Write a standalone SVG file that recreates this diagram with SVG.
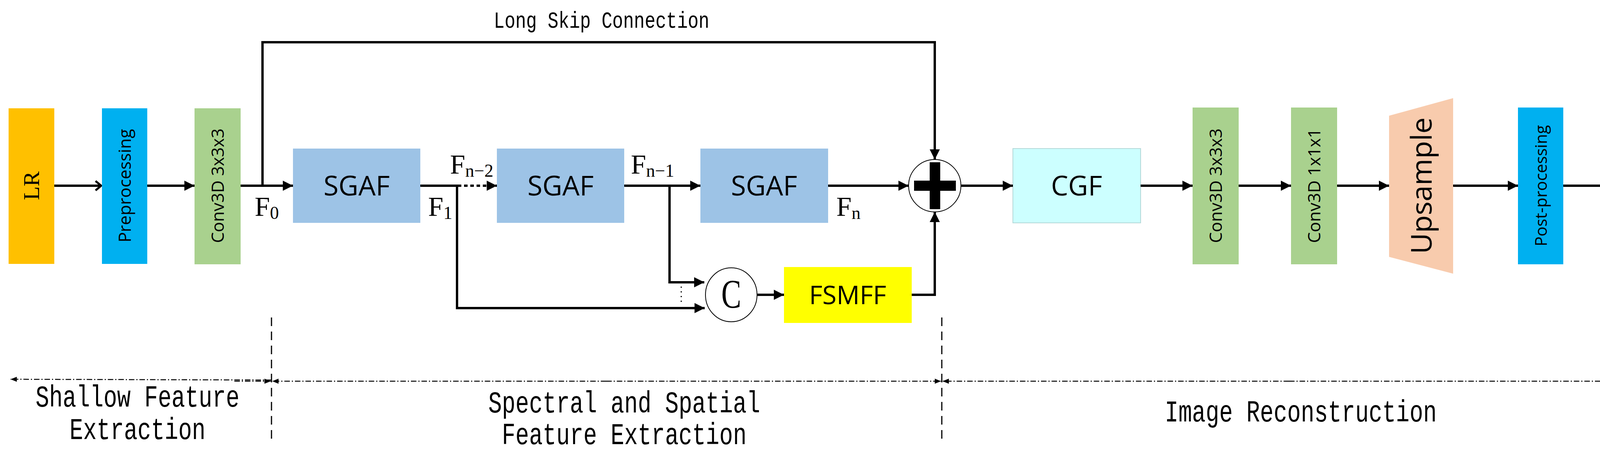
<svg xmlns="http://www.w3.org/2000/svg" width="4272" height="1174" viewBox="0 0 4272 1174">
<style>
.lbl{font-family:"Open Sans","DejaVu Sans",sans-serif;fill:#000}
.ser{font-family:"Liberation Serif","DejaVu Serif",serif;fill:#000}
.mono{font-family:"Liberation Mono","DejaVu Sans Mono",monospace;fill:#000}
.ln{fill:none;stroke:#000;stroke-width:6}
.dd{fill:none;stroke:#000;stroke-width:2.5;stroke-dasharray:14 5 3 5}
.vd{fill:none;stroke:#000;stroke-width:3;stroke-dasharray:22 14}
</style>
<defs>
<marker id="a" viewBox="0 0 10 10" refX="10" refY="5" markerWidth="26" markerHeight="26" markerUnits="userSpaceOnUse" orient="auto"><path d="M0,0 L10,5 L0,10 z" fill="#000"/></marker>
<marker id="ao" viewBox="0 0 10 10" refX="9" refY="5" markerWidth="24" markerHeight="28" markerUnits="userSpaceOnUse" orient="auto"><path d="M3,0 L9,5 L3,10" fill="none" stroke="#000" stroke-width="2.2"/></marker>
<marker id="as" viewBox="0 0 10 10" refX="10" refY="5" markerWidth="16" markerHeight="16" markerUnits="userSpaceOnUse" orient="auto"><path d="M0,1 L10,5 L0,9 z" fill="#000"/></marker>
</defs>

<g id="LR"><rect x="22" y="277" width="117" height="398" fill="#FFC000"/><text class="ser" font-size="58" transform="translate(100,475) rotate(-90)" text-anchor="middle">LR</text></g>
<g id="pre"><rect x="261" y="277" width="116" height="398" fill="#00B0F0"/><text class="lbl" font-size="44" transform="translate(335,475) rotate(-90)" text-anchor="middle">Preprocessing</text></g>
<g id="conv1"><rect x="498" y="277" width="118" height="399" fill="#A9D18E"/><text class="lbl" font-size="44" transform="translate(573,475) rotate(-90)" text-anchor="middle">Conv3D 3x3x3</text></g>
<g id="sgaf1"><rect x="750" y="380" width="326" height="190" fill="#9DC3E6"/><text class="lbl" font-size="70" x="913" y="500" text-anchor="middle">SGAF</text></g>
<g id="sgaf2"><rect x="1272" y="380" width="326" height="190" fill="#9DC3E6"/><text class="lbl" font-size="70" x="1435" y="500" text-anchor="middle">SGAF</text></g>
<g id="sgaf3"><rect x="1793" y="380" width="327" height="190" fill="#9DC3E6"/><text class="lbl" font-size="70" x="1956" y="500" text-anchor="middle">SGAF</text></g>
<g id="plus"><circle cx="2393" cy="475" r="67" fill="#fff" stroke="#000" stroke-width="2"/><rect x="2340" y="462" width="107" height="26"/><rect x="2380" y="415" width="27" height="120"/></g>
<g id="concat"><ellipse cx="1872" cy="754" rx="66" ry="69" fill="#fff" stroke="#000" stroke-width="2"/><text class="ser" font-size="90" transform="translate(1872,787) scale(0.85,1.15)" text-anchor="middle">C</text></g>
<g id="fsmff"><rect x="2007" y="683" width="327" height="143" fill="#FFFF00"/><text class="lbl" font-size="66" x="2170" y="778" text-anchor="middle">FSMFF</text></g>
<g id="cgf"><rect x="2593" y="380" width="327" height="190" fill="#CCFFFF" stroke="#B4D8D8" stroke-width="2"/><text class="lbl" font-size="70" x="2756" y="500" text-anchor="middle">CGF</text></g>
<g id="conv2"><rect x="3053" y="275" width="118" height="401" fill="#A9D18E"/><text class="lbl" font-size="44" transform="translate(3128,475) rotate(-90)" text-anchor="middle">Conv3D 3x3x3</text></g>
<g id="conv3"><rect x="3305" y="275" width="118" height="401" fill="#A9D18E"/><text class="lbl" font-size="44" transform="translate(3380,475) rotate(-90)" text-anchor="middle">Conv3D 1x1x1</text></g>
<g id="up"><polygon points="3556,296 3720,251 3720,700 3556,657" fill="#F8CBAD"/><text class="lbl" font-size="74" transform="translate(3665,475) rotate(-90)" text-anchor="middle">Upsample</text></g>
<g id="post"><rect x="3886" y="275" width="116" height="401" fill="#00B0F0"/><text class="lbl" font-size="42" transform="translate(3960,475) rotate(-90)" text-anchor="middle">Post-processing</text></g>
<g id="SR"><rect x="4124" y="150" width="116" height="651" fill="#FFC000"/><text class="ser" font-size="58" transform="translate(4202,475) rotate(-90)" text-anchor="middle">SR</text></g>

<g id="connectors">
<line class="ln" x1="139" y1="475" x2="259" y2="475" marker-end="url(#ao)"/>
<line class="ln" x1="377" y1="475" x2="498" y2="475" marker-end="url(#a)"/>
<line class="ln" x1="616" y1="475" x2="750" y2="475" marker-end="url(#a)"/>
<polyline class="ln" stroke-width="5" points="672,475 672,108 2393,108 2393,408" marker-end="url(#a)"/>
<line class="ln" x1="1076" y1="475" x2="1172" y2="475"/>
<line class="ln" x1="1172" y1="475" x2="1272" y2="475" stroke-dasharray="9 7" marker-end="url(#a)"/>
<polyline class="ln" points="1170,475 1170,788 1804,788" marker-end="url(#a)"/>
<line class="ln" x1="1598" y1="475" x2="1793" y2="475" marker-end="url(#a)"/>
<polyline class="ln" points="1714,475 1714,722 1803,722" marker-end="url(#a)"/>
<line x1="1744" y1="733" x2="1744" y2="780" stroke="#000" stroke-width="3" stroke-dasharray="3 9"/>
<line class="ln" x1="1938" y1="754" x2="2007" y2="754" marker-end="url(#a)"/>
<line class="ln" x1="2120" y1="475" x2="2326" y2="475" marker-end="url(#a)"/>
<polyline class="ln" points="2334,754 2393,754 2393,542" marker-end="url(#a)"/>
<line class="ln" x1="2460" y1="475" x2="2593" y2="475" marker-end="url(#a)"/>
<line class="ln" x1="2920" y1="475" x2="3053" y2="475" marker-end="url(#a)"/>
<line class="ln" x1="3171" y1="475" x2="3305" y2="475" marker-end="url(#a)"/>
<line class="ln" x1="3423" y1="475" x2="3556" y2="475" marker-end="url(#a)"/>
<line class="ln" x1="3720" y1="475" x2="3886" y2="475" marker-end="url(#a)"/>
<line class="ln" x1="4002" y1="475" x2="4124" y2="475" marker-end="url(#a)"/>
<line class="vd" x1="695" y1="812" x2="695" y2="1126"/>
<line class="vd" x1="2411" y1="812" x2="2411" y2="1126"/>
<line class="vd" x1="4198" y1="812" x2="4198" y2="1126"/>
<line class="dd" x1="695" y1="972" x2="27" y2="970" marker-end="url(#as)"/>
<line class="dd" x1="1552" y1="975" x2="697" y2="975" marker-end="url(#as)"/>
<line class="dd" x1="1552" y1="975" x2="2409" y2="975" marker-end="url(#as)"/>
<line class="dd" x1="3300" y1="975" x2="2413" y2="975" marker-end="url(#as)"/>
<line class="dd" x1="3300" y1="975" x2="4196" y2="975" marker-end="url(#as)"/>
<line class="dd" x1="600" y1="975" x2="693" y2="975" marker-end="url(#as)"/>
</g>

<g id="labels">
<text class="mono" font-size="46" transform="translate(1540,71) scale(1,1.3)" text-anchor="middle">Long Skip Connection</text>
<text class="ser" font-size="70" x="652" y="552">F<tspan font-size="46" dy="8">0</tspan></text>
<text class="ser" font-size="70" x="1096" y="552">F<tspan font-size="46" dy="8">1</tspan></text>
<text class="ser" font-size="70" x="1152" y="444">F<tspan font-size="46" dy="8">n−2</tspan></text>
<text class="ser" font-size="70" x="1615" y="444">F<tspan font-size="46" dy="8">n−1</tspan></text>
<text class="ser" font-size="70" x="2141" y="552">F<tspan font-size="46" dy="8">n</tspan></text>
<text class="mono" font-size="58" transform="translate(352,1040) scale(1,1.35)" text-anchor="middle">Shallow Feature</text>
<text class="mono" font-size="58" transform="translate(352,1123) scale(1,1.35)" text-anchor="middle">Extraction</text>
<text class="mono" font-size="58" transform="translate(1598,1055) scale(1,1.35)" text-anchor="middle">Spectral and Spatial</text>
<text class="mono" font-size="58" transform="translate(1598,1136) scale(1,1.35)" text-anchor="middle">Feature Extraction</text>
<text class="mono" font-size="58" transform="translate(3330,1078) scale(1,1.35)" text-anchor="middle">Image Reconstruction</text>
</g>
</svg>
